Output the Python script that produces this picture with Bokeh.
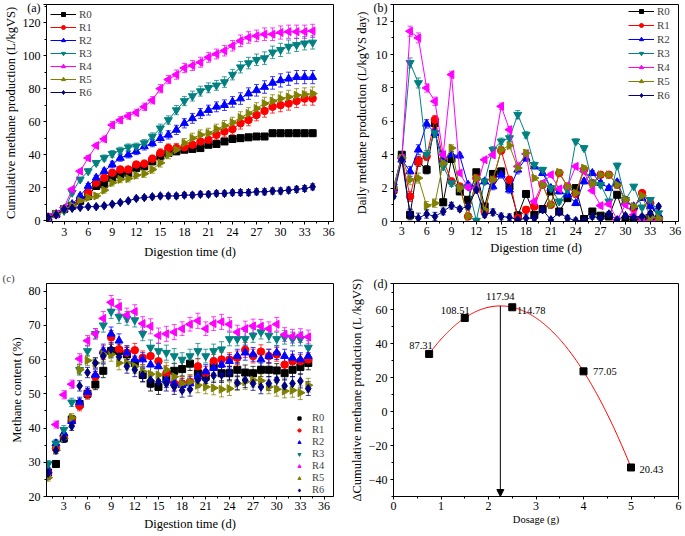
import numpy as np
from bokeh.plotting import figure
from bokeh.layouts import gridplot
from bokeh.models import (Range1d, FixedTicker, Whisker, TeeHead, Legend, LegendItem,
                          ColumnDataSource, Title, Arrow, NormalHead)
from bokeh.core.properties import value
from bokeh.embed import file_html
from bokeh.resources import INLINE

FONT = "Liberation Serif"

# ---------------- data ----------------
series_names = ["R0", "R1", "R2", "R3", "R4", "R5", "R6"]

days_a = list(range(1, 35))
a_R0 = [2, 4, 7, 9, 12, 15, 21, 22, 26, 28, 29, 32, 33, 36, 39, 41, 42, 43, 43.5, 44, 46, 46.5, 48, 49.5, 50, 50.5, 51, 51, 53, 53, 53, 53, 53, 53]
a_R1 = [2, 4, 7, 9, 13, 17, 23, 26, 29, 31, 31, 34, 34.5, 37.5, 41, 44, 44, 44.5, 46, 48, 49, 52, 54, 55.5, 59, 61, 64, 66.5, 69, 70, 71, 72.5, 74, 74]
a_R2 = [2, 4, 7, 10, 15, 21, 26, 30, 34, 38, 40, 42, 45, 47, 50, 52, 55, 59, 62, 65, 67, 69, 70, 72, 74, 77, 79, 81, 83.5, 85, 86, 87, 87, 87]
a_R3 = [2, 4, 6, 17, 25, 30, 35, 38, 40.5, 42.5, 44.5, 45, 47, 51, 56, 61, 67, 72.5, 75.5, 78.5, 80.5, 82, 84, 88.5, 93, 95.5, 97.5, 98.5, 102, 103.5, 105.5, 106.5, 107.5, 108]
a_R4 = [2, 4, 8, 19, 30, 38, 45.5, 49.5, 58, 61, 63.5, 65.5, 69, 73, 80, 85.5, 88.5, 92.5, 94, 96, 99, 101, 103, 106, 109, 111, 112, 113, 113, 114, 114.5, 114.5, 114.5, 115]
a_R5 = [2, 4, 7, 9, 12, 14, 15, 18.5, 23, 25, 25.5, 27.5, 28.5, 31, 35, 40, 43, 47, 50, 52, 53, 55.5, 57.5, 59.5, 62.5, 65, 68, 71, 72.5, 74, 75, 76, 76.5, 77]
a_R6 = [2, 3.5, 7, 7.5, 8, 8.5, 8.5, 9, 10, 11, 12, 13.5, 14, 14.5, 15, 15, 15, 15.5, 15.5, 16, 16, 16.5, 16.5, 17, 17, 17, 17.5, 17.5, 18, 18, 18.5, 19, 19.5, 20.5]
err_a = [0.3, 0.5, 0.8, 1, 1.2, 1.5, 1.5, 1.8, 2, 2, 2, 2, 2.2, 2.2, 2.5, 2.5, 2.8, 2.8, 3, 3, 3, 3, 3.2, 3.2, 3.5, 3.5, 3.5, 3.8, 3.8, 4, 4, 4, 4, 4]
err_a_small = [0.3, 0.4, 0.5, 0.6, 0.8, 0.8, 1, 1, 1, 1, 1, 1.2, 1.2, 1.2, 1.2, 1.5, 1.5, 1.5, 1.5, 1.5, 1.5, 1.5, 1.5, 1.5, 1.8, 1.8, 1.8, 1.8, 1.8, 1.8, 1.8, 1.8, 1.8, 1.8]

days_b = list(range(2, 35))
b_R0 = [1.9, 4.0, 0.4, 3.6, 3.1, 5.9, 1.15, 3.75, 1.8, 1.3, 2.95, 0.9, 2.85, 3.0, 2.1, 0.35, 1.65, 0.4, 0.75, 1.8, 0.6, 1.4, 2.0, 0.15, 0.6, 0.35, 0.3, 1.6, 0.1, 0.1, 0.1, 0.2, 0.1]
b_R1 = [1.9, 3.8, 1.5, 3.6, 3.9, 6.1, 3.7, 2.4, 2.1, 0.3, 2.6, 0.6, 2.5, 4.25, 2.5, 0.2, 0.7, 0.9, 2.2, 1.0, 2.9, 2.1, 1.65, 3.1, 2.3, 2.8, 2.8, 2.2, 1.3, 0.8, 1.7, 1.1, 0.2]
b_R2 = [2.0, 3.7, 3.0, 4.3, 5.85, 5.3, 3.7, 4.0, 3.95, 2.2, 2.1, 2.4, 2.1, 2.8, 1.9, 3.1, 3.8, 3.3, 2.9, 2.0, 1.8, 1.6, 1.1, 2.4, 2.9, 2.3, 2.0, 2.35, 1.2, 0.9, 1.4, 0.9, 0.4]
b_R3 = [2.1, 3.8, 9.5, 8.3, 4.0, 5.3, 3.3, 2.3, 2.0, 2.1, 0.05, 2.4, 4.3, 4.8, 5.0, 6.4, 5.2, 3.4, 3.1, 2.0, 1.2, 1.9, 4.8, 4.4, 2.3, 2.2, 1.2, 3.35, 1.3, 2.1, 0.85, 1.3, 0.5]
b_R4 = [2.0, 3.8, 11.4, 11.0, 8.0, 7.2, 4.0, 8.8, 2.9, 2.05, 2.0, 3.7, 4.0, 6.9, 5.5, 3.3, 4.05, 1.2, 2.3, 2.8, 1.95, 2.1, 3.3, 3.0, 1.85, 0.95, 1.05, 0.1, 1.0, 0.4, 0.05, 0.05, 0.05]
b_R5 = [2.0, 3.8, 2.5, 2.6, 0.95, 1.1, 3.5, 4.4, 2.0, 0.3, 2.6, 0.7, 2.5, 4.3, 4.55, 3.2, 4.1, 2.6, 2.2, 1.0, 2.95, 2.1, 1.7, 3.2, 2.25, 2.8, 2.8, 2.2, 1.3, 0.9, 1.55, 0.25, 0.2]
b_R6 = [1.5, 3.7, 0.45, 0.2, 0.45, 0.3, 0.6, 0.95, 0.75, 0.9, 1.9, 0.4, 0.55, 0.3, 0.25, 0.1, 0.2, 0.2, 0.7, 0.1, 0.55, 0.2, 0.05, 0.05, 0.3, 0.2, 0.45, 0.1, 0.35, 0.25, 0.3, 0.5, 0.9]
err_b = [0.1, 0.15, 0.3, 0.3, 0.25, 0.25, 0.2, 0.2, 0.15, 0.15, 0.15, 0.15, 0.2, 0.2, 0.2, 0.25, 0.2, 0.15, 0.15, 0.15, 0.15, 0.15, 0.15, 0.15, 0.15, 0.15, 0.15, 0.15, 0.1, 0.1, 0.1, 0.1, 0.1]

days_c = list(range(1, 35))
c_R0 = [27, 29.5, 37, 42.5, 47, 50, 52.7, 56.7, 62.5, 62.5, 61.5, 59, 55.5, 53, 52, 54.5, 56.7, 57.2, 58.8, 56, 55, 58, 56, 56, 57, 56.2, 56, 57, 57, 56.8, 56, 57, 57.8, 59]
c_R1 = [27, 34, 37.5, 42, 46.5, 50, 55, 62, 66.5, 63, 62, 62.7, 60.5, 61, 59.5, 56, 53, 53, 53.5, 58, 56, 59.5, 60, 60, 60.5, 62.8, 61, 62.3, 61, 61.5, 58.5, 59.5, 59.5, 60]
c_R2 = [27.5, 35.5, 38.5, 42, 47.5, 50.5, 55.5, 62.5, 67.5, 65.5, 62, 60, 60, 58.5, 58, 54, 53, 52.5, 53, 55, 56.5, 57.5, 58.5, 59.5, 61, 62, 61.5, 60, 61, 62, 61, 60.5, 60, 61]
c_R3 = [29.5, 35.5, 39.5, 47.5, 57, 62.5, 67.5, 70, 74, 72.5, 72, 71.5, 67.5, 63.5, 62.5, 62, 61, 60, 61, 62.5, 61, 62.5, 63, 66, 66, 66, 67, 68, 67, 66, 66.5, 66, 66, 63.5]
c_R4 = [26, 41, 49.7, 52.8, 60.2, 65.5, 67.5, 72, 76.7, 75.5, 73, 74, 70.5, 69.7, 67, 67.5, 68, 69, 70.3, 71.3, 69, 70.5, 71, 70.3, 68, 69, 69.8, 69.7, 69, 70.3, 67.3, 66.8, 67, 66.6]
c_R5 = [25.5, 33.5, 37, 43, 57, 59.7, 59, 61.5, 61.5, 59, 59, 58, 56.5, 55.7, 55.5, 57, 55, 53, 53.5, 52.5, 52, 51.7, 51.3, 51.5, 53, 53.5, 54, 53.8, 52, 51.3, 50.8, 51, 50.3, 52.5]
c_R6 = [26.8, 33.5, 37, 40.5, 52.3, 56.2, 59, 61, 63, 60.8, 58, 57, 55.5, 54, 53.5, 53, 52, 51, 51.3, 54, 54, 55.3, 55.5, 56, 53.2, 54, 53, 52, 53, 54, 52.3, 53, 53.7, 51.5]
err_c = [1.0, 1.0, 1.2, 1.2, 1.5, 1.5, 1.5, 2.0, 2.0, 2.0, 2.0, 2.0, 2.0, 2.2, 2.2, 2.2, 2.2, 2.0, 2.0, 2.2, 2.0, 2.0, 2.2, 2.0, 2.0, 2.2, 2.0, 2.0, 2.0, 2.0, 2.0, 2.0, 2.0, 2.0]

dosage = [0.75, 1.5, 2.5, 4.0, 5.0]
delta_cum = [34.0, 55.2, 61.5, 23.75, -32.9]
dose_labels = ["87.31", "108.51", "114.78", "77.05", "20.43"]
peak_label = "117.94"
panel_tags = ["(a)", "(b)", "(c)", "(d)"]

# ---------------- styles ----------------
colors = ["#000000", "#FF0000", "#0000FF", "#008080", "#FF00FF", "#808000", "#000080"]
markers = ["square", "circle", "triangle", "inverted_triangle", "triangle", "triangle", "diamond"]
angles = [0, 0, 0, 0, np.pi / 2, -np.pi / 2, 0]
msizes = [7, 7.5, 8, 8, 8, 8, 8.5]


def make_fig(w, h, xr, yr, xt, xm, yt, ym, xlabel, ylabel, mb, sx=(2, 4), xlab_size="12.5px", tag=None):
    p = figure(width=w, height=h, x_range=Range1d(*xr), y_range=Range1d(*yr),
               output_backend="svg", toolbar_location=None,
               min_border_left=mb[0], min_border_right=mb[1],
               min_border_top=mb[2], min_border_bottom=mb[3])
    p.grid.visible = False
    p.outline_line_color = "black"
    p.outline_line_width = 1
    p.outline_line_alpha = 1
    p.background_fill_color = "white"
    p.border_fill_color = "white"
    p.xaxis.ticker = FixedTicker(ticks=xt, minor_ticks=xm)
    yt = list(yt)
    if tag is not None:
        # panel tag shown next to the top-left corner of the frame
        yt = yt + [yr[1]]
        p.yaxis.major_label_overrides = {yr[1]: tag}
    p.yaxis.ticker = FixedTicker(ticks=yt, minor_ticks=ym)
    for ax in (p.xaxis[0], p.yaxis[0]):
        ax.major_tick_in = 0
        ax.major_tick_out = 3
        ax.minor_tick_in = 0
        ax.minor_tick_out = 2
        ax.axis_line_color = "black"
        ax.major_tick_line_color = "black"
        ax.minor_tick_line_color = "black"
        ax.major_label_text_font = FONT
        ax.major_label_text_font_size = "12px"
        ax.major_label_text_color = "black"
        ax.axis_label_text_font = FONT
        ax.axis_label_text_font_style = "normal"
        ax.axis_label_text_color = "black"
    p.xaxis.axis_label = xlabel
    p.yaxis.axis_label = ylabel
    p.xaxis.axis_label_text_font_size = xlab_size
    p.yaxis.axis_label_text_font_size = "12.5px"
    p.xaxis.major_label_standoff = sx[0]
    p.xaxis.axis_label_standoff = sx[1]
    p.yaxis.major_label_standoff = 3
    p.yaxis.axis_label_standoff = 2
    return p


def add_series(p, x, y, err, i, with_line=True):
    ya = np.array(y, dtype=float)
    ea = np.array(err, dtype=float)
    src = ColumnDataSource(dict(x=x, y=ya, lo=ya - ea, hi=ya + ea))
    c = colors[i]
    p.add_layout(Whisker(source=src, base="x", upper="hi", lower="lo",
                         line_color=c, line_width=1, line_alpha=0.75,
                         upper_head=TeeHead(size=5, line_color=c, line_width=1, line_alpha=0.75),
                         lower_head=TeeHead(size=5, line_color=c, line_width=1, line_alpha=0.75)))
    rends = []
    if with_line:
        rends.append(p.line("x", "y", source=src, line_color=c, line_width=1))
    rends.append(p.scatter("x", "y", source=src, marker=markers[i], angle=angles[i],
                           size=msizes[i], fill_color=c, line_color=c))
    return LegendItem(label=series_names[i], renderers=rends)


def style_legend(lg, fs="11px", lh=10, sp=1):
    lg.border_line_color = None
    lg.background_fill_alpha = 0
    lg.label_text_font = FONT
    lg.label_text_font_size = fs
    lg.glyph_height = lh
    lg.label_height = lh
    lg.spacing = sp
    lg.padding = 2
    lg.label_standoff = 3


# ---------------- panel (a) ----------------
xt = list(range(3, 37, 3))
xm = [1.5 + 3 * k for k in range(12)]
pa = make_fig(346, 266, (0.8, 36.6), (-0.5, 131), xt, xm,
              range(0, 121, 20), list(range(10, 131, 20)),
              "Digestion time (d)", "Cumulative methane production (L/kgVS)",
              (40, 11, 4, 45), sx=(3, 6), tag=panel_tags[0])
a_vals = [a_R0, a_R1, a_R2, a_R3, a_R4, a_R5, a_R6]
items = []
for i, yv in enumerate(a_vals):
    e = err_a_small if i in (0, 6) else err_a
    items.append(add_series(pa, days_a, yv, e, i))
lga = Legend(items=items, location="top_left", glyph_width=26, margin=4)
style_legend(lga)
pa.add_layout(lga)

# ---------------- panel (b) ----------------
pb = make_fig(338, 266, (2.0, 36.4), (0, 13), xt, xm,
              range(0, 13, 2), list(range(1, 13, 2)),
              "Digestion time (d)", "Daily methane production (L/kgVS day)",
              (42, 6, 4, 41), sx=(2, 3), tag=panel_tags[1])
b_vals = [b_R0, b_R1, b_R2, b_R3, b_R4, b_R5, b_R6]
items = [add_series(pb, days_b, yv, err_b, i) for i, yv in enumerate(b_vals)]
lgb = Legend(items=items, location="top_right", glyph_width=26, margin=1)
style_legend(lgb, sp=2)
pb.add_layout(lgb)

# ---------------- panel (c) ----------------
pc = make_fig(346, 268, (0.8, 37.2), (20, 82.2), xt, xm,
              range(20, 81, 10), list(range(25, 81, 10)),
              "Digestion time (d)", "Methane content (%)",
              (35, 13, 17, 38), sx=(2, 4))
pc.add_layout(Title(text=panel_tags[2], align="left", offset=-44, text_font=FONT,
                    text_font_size="11px", text_font_style="normal", standoff=0), "above")
c_vals = [c_R0, c_R1, c_R2, c_R3, c_R4, c_R5, c_R6]
items = [add_series(pc, days_c, yv, err_c, i, with_line=False) for i, yv in enumerate(c_vals)]
lgc = Legend(items=items, location="bottom_right", glyph_width=14, margin=1)
style_legend(lgc, fs="10.5px", lh=8, sp=1)
lgc.label_standoff = 6
pc.add_layout(lgc)

# ---------------- panel (d) ----------------
pd = make_fig(338, 268, (0, 6), (-50, 75.5), list(range(0, 7)),
              [0.5 + k for k in range(6)],
              range(-40, 61, 20), list(range(-50, 76, 10)),
              "Dosage (g)", "\u0394Cumulative methane production (L /kgVS)",
              (41, 2, 17, 29), sx=(2, 1), xlab_size="10.5px", tag=panel_tags[3])
coef = np.polyfit(dosage, delta_cum, 2)
xs = np.linspace(min(dosage), max(dosage), 200)
pd.line(xs, np.polyval(coef, xs), line_color="#FF0000", line_width=1)
pd.scatter(dosage, delta_cum, marker="square", size=7, fill_color="black", line_color="black")
xpk = -coef[1] / (2 * coef[0])
ypk = np.polyval(coef, xpk)
pd.add_layout(Arrow(end=NormalHead(size=7, fill_color="black", line_color="black"),
                    x_start=xpk, y_start=ypk, x_end=xpk, y_end=-50,
                    line_color="black", line_width=1))
# label placement offsets (data units)
ldx = [-0.17, -0.2, 0.4, 0.45, 0.43]
ldy = [4.7, 4.6, -2.0, -0.3, -0.9]
lx = [d + o for d, o in zip(dosage, ldx)]
ly = [v + o for v, o in zip(delta_cum, ldy)]
pd.text(lx, ly, text=dose_labels, text_align="center", text_baseline="middle",
        text_font=value(FONT), text_font_size="10.5px", text_color="black")
pd.text([xpk], [ypk + 5.4], text=[peak_label], text_align="center", text_baseline="middle",
        text_font=value(FONT), text_font_size="10.5px", text_color="black")

grid = gridplot([[pa, pb], [pc, pd]], toolbar_location=None)
open("out.html", "w").write(file_html(grid, INLINE))
